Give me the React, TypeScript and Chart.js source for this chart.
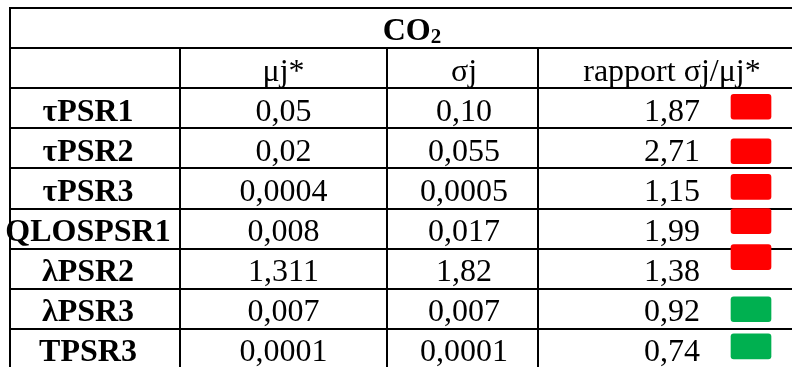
import React, { useEffect, useRef } from "react";
import { Chart, registerables } from "chart.js";

Chart.register(...registerables);

// ---- data ----
const titleMain = "CO";
const titleSub = "2";
const columnHeaders = ["", "μj*", "σj", "rapport σj/μj*"];
const rowLabels = ["τPSR1", "τPSR2", "τPSR3", "QLOSPSR1", "λPSR2", "λPSR3", "TPSR3"];
const muValues = ["0,05", "0,02", "0,0004", "0,008", "1,311", "0,007", "0,0001"];
const sigmaValues = ["0,10", "0,055", "0,0005", "0,017", "1,82", "0,007", "0,0001"];
const ratioValues = [1.87, 2.71, 1.15, 1.99, 1.38, 0.92, 0.74];
// vertical shift of each indicator box inside its row (row units)
const indicatorShift = [0.15, 0.26, 0.15, 0.0, -0.1, 0.2, 0.125];

// ---- layout ----
const W = 792;
const H = 367;
const ROW_H = 40.1;
const TOP = 8;
const ROWS = 9;
const colEdges = [10, 180, 387, 538, 808];
const colCenters = [88, 283.5, 464, 672];
const tableCenter = 412;
const indicatorX = 751;
const indicatorH = 0.625;
const FONT = "'Liberation Serif', 'Times New Roman', serif";

const fmt = (v: number) => v.toFixed(2).replace(".", ",");

const tablePlugin = {
  id: "tablePlugin",
  beforeDatasetsDraw(chart: any) {
    const { ctx, scales } = chart;
    const x = scales.x;
    const y = scales.y;
    ctx.save();
    ctx.strokeStyle = "#000";
    ctx.lineWidth = 2;
    ctx.beginPath();
    for (let r = 0; r <= ROWS; r++) {
      const py = Math.round(y.getPixelForValue(r));
      ctx.moveTo(x.getPixelForValue(colEdges[0]) - 1, py);
      ctx.lineTo(x.getPixelForValue(colEdges[colEdges.length - 1]) + 1, py);
    }
    // outer vertical borders
    [colEdges[0], colEdges[colEdges.length - 1]].forEach((c) => {
      const px = Math.round(x.getPixelForValue(c));
      ctx.moveTo(px, y.getPixelForValue(0));
      ctx.lineTo(px, y.getPixelForValue(ROWS));
    });
    // inner vertical borders (below the title row)
    colEdges.slice(1, -1).forEach((c) => {
      const px = Math.round(x.getPixelForValue(c));
      ctx.moveTo(px, y.getPixelForValue(1));
      ctx.lineTo(px, y.getPixelForValue(ROWS));
    });
    ctx.stroke();
    ctx.restore();
  },
  afterDatasetsDraw(chart: any) {
    const { ctx, scales } = chart;
    const x = scales.x;
    const y = scales.y;
    const base = (row: number) => y.getPixelForValue(row + 0.81);
    ctx.save();
    ctx.fillStyle = "#000";
    ctx.textBaseline = "alphabetic";

    // title CO2
    ctx.font = `bold 32px ${FONT}`;
    const wMain = ctx.measureText(titleMain).width;
    ctx.font = `bold 21px ${FONT}`;
    const wSub = ctx.measureText(titleSub).width;
    const startX = x.getPixelForValue(tableCenter) - (wMain + wSub) / 2;
    ctx.textAlign = "left";
    ctx.font = `bold 32px ${FONT}`;
    ctx.fillText(titleMain, startX, base(0));
    ctx.font = `bold 21px ${FONT}`;
    ctx.fillText(titleSub, startX + wMain, base(0) + 3);

    ctx.textAlign = "center";
    ctx.font = `32px ${FONT}`;
    columnHeaders.forEach((h, c) => {
      if (h) ctx.fillText(h, x.getPixelForValue(colCenters[c]), base(1));
    });

    rowLabels.forEach((lab, i) => {
      const r = i + 2;
      ctx.font = `bold 32px ${FONT}`;
      ctx.fillText(lab, x.getPixelForValue(colCenters[0]), base(r));
      ctx.font = `32px ${FONT}`;
      ctx.fillText(muValues[i], x.getPixelForValue(colCenters[1]), base(r));
      ctx.fillText(sigmaValues[i], x.getPixelForValue(colCenters[2]), base(r));
      ctx.fillText(fmt(ratioValues[i]), x.getPixelForValue(colCenters[3]), base(r));
    });
    ctx.restore();
  },
};

export default function App() {
  const ref = useRef<HTMLCanvasElement | null>(null);

  useEffect(() => {
    if (!ref.current) return;
    const chart = new Chart(ref.current, {
      type: "bar",
      data: {
        datasets: [
          {
            label: "indicator",
            data: ratioValues.map((v, i) => ({
              x: indicatorX,
              y: [i + 2 + indicatorShift[i], i + 2 + indicatorShift[i] + indicatorH],
            })) as any,
            backgroundColor: ratioValues.map((v) => (v > 1 ? "#FF0000" : "#00B050")),
            borderWidth: 0,
            borderRadius: 3,
            borderSkipped: false,
            barThickness: 40,
          },
        ],
      },
      options: {
        animation: false,
        responsive: false,
        events: [],
        layout: { padding: 0 },
        plugins: { legend: { display: false }, tooltip: { enabled: false } },
        scales: {
          x: { type: "linear", min: 0, max: W, offset: false, display: false },
          y: {
            type: "linear",
            min: -TOP / ROW_H,
            max: (H - TOP) / ROW_H,
            reverse: true,
            offset: false,
            display: false,
          },
        },
      },
      plugins: [tablePlugin],
    });
    return () => chart.destroy();
  }, []);

  return (
    <div style={{ position: "fixed", left: 0, top: 0, width: W, height: H, background: "#fff" }}>
      <canvas ref={ref} width={W} height={H} style={{ display: "block" }} />
    </div>
  );
}
